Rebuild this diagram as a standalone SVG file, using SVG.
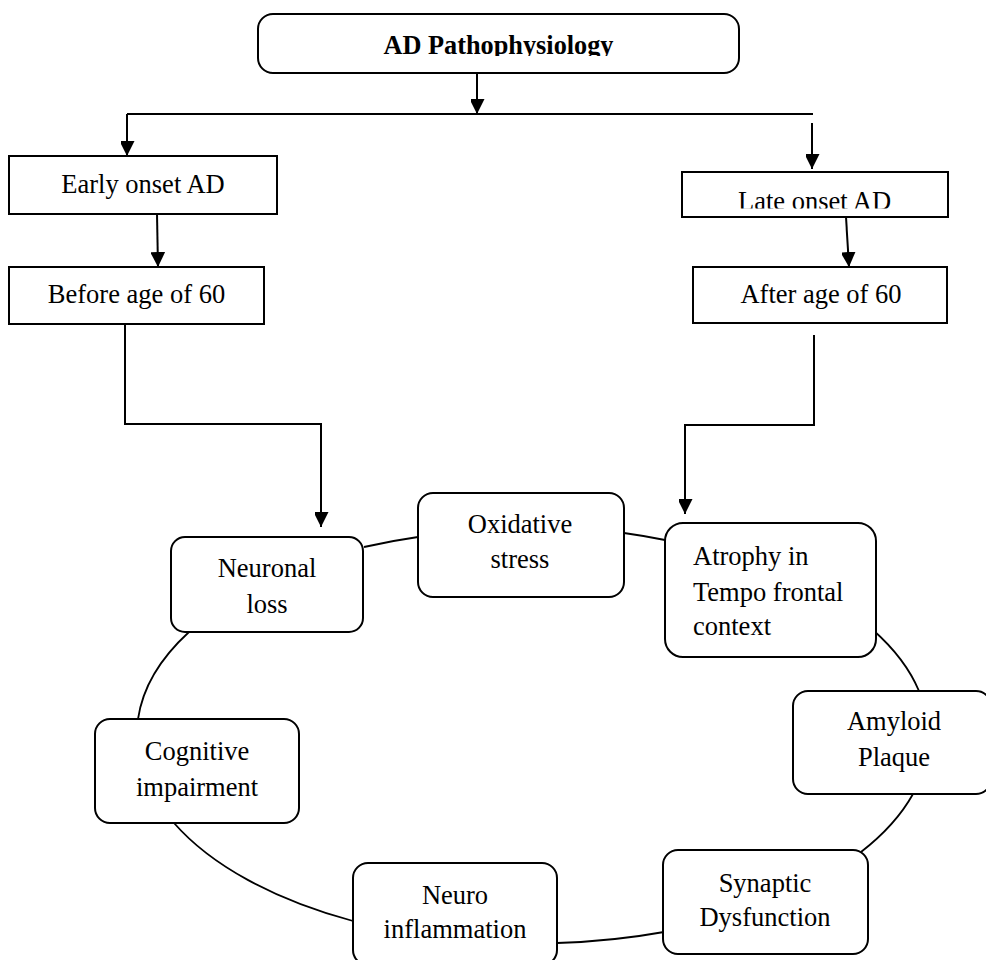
<svg xmlns="http://www.w3.org/2000/svg" width="986" height="960" viewBox="0 0 986 960">
<style>
.box{fill:#fff;stroke:#000;stroke-width:2}
.t{font-family:"Liberation Serif","Times New Roman",serif;font-size:26.5px;fill:#000}
.c{text-anchor:middle}
.ln{fill:none;stroke:#000;stroke-width:2}
.arc{fill:none;stroke:#000;stroke-width:1.8}
</style>
<defs>
<marker id="ah" markerUnits="userSpaceOnUse" markerWidth="16" markerHeight="14" refX="15" refY="7.5" orient="auto">
<path d="M0,0 L15,7.5 L0,15 Z" fill="#000"/>
</marker>
<clipPath id="clipTitle"><rect x="250" y="20" width="500" height="36"/></clipPath>
<clipPath id="clipLate"><rect x="684" y="174" width="262" height="34.5"/></clipPath>
</defs>
<rect width="986" height="960" fill="#fff"/>
<g id="connectors">
<path class="ln" d="M477,73 V114" marker-end="url(#ah)"/>
<path class="ln" d="M127,114 H813"/>
<path class="ln" d="M127,114 V156" marker-end="url(#ah)"/>
<path class="ln" d="M812,123 V169" marker-end="url(#ah)"/>
<path class="ln" d="M157,214 L158,267" marker-end="url(#ah)"/>
<path class="ln" d="M846,217 L849,267" marker-end="url(#ah)"/>
<path class="ln" d="M125,324 V424 H321 V527" marker-end="url(#ah)"/>
<path class="ln" d="M814,335 V425 H685 V514" marker-end="url(#ah)"/>
<path class="arc" d="M364,547 A395 207 0 0 1 418,537"/>
<path class="arc" d="M624,533 A395 207 0 0 1 665,540"/>
<path class="arc" d="M873,630 A395 207 0 0 1 919,691"/>
<path class="arc" d="M913,794 A395 207 0 0 1 861,852"/>
<path class="arc" d="M664,932 A395 207 0 0 1 557,943"/>
<path class="arc" d="M353,921 A395 207 0 0 1 174,823"/>
<path class="arc" d="M138,719 A395 207 0 0 1 189,632"/>
</g>
<g id="n-title">
<rect class="box" x="258" y="14" width="481" height="59" rx="15"/>
<text class="t c" x="498.5" y="54" font-size="23" font-weight="bold" textLength="230" lengthAdjust="spacingAndGlyphs" clip-path="url(#clipTitle)">AD Pathophysiology</text>
</g>
<g id="n-early">
<rect class="box" x="9" y="156" width="268" height="58"/>
<text class="t c" x="143" y="193" font-size="24.5">Early onset AD</text>
</g>
<g id="n-late">
<rect class="box" x="682" y="172" width="266" height="45"/>
<text class="t c" x="814.5" y="210" clip-path="url(#clipLate)">Late onset AD</text>
</g>
<g id="n-before">
<rect class="box" x="9" y="267" width="255" height="57"/>
<text class="t c" x="136.5" y="303">Before age of 60</text>
</g>
<g id="n-after">
<rect class="box" x="693" y="267" width="254" height="56"/>
<text class="t c" x="821" y="303">After age of 60</text>
</g>
<g id="n-oxidative">
<rect class="box" x="418" y="493" width="206" height="104" rx="15"/>
<text class="t c" x="520" y="533">Oxidative</text>
<text class="t c" x="520" y="568">stress</text>
</g>
<g id="n-neuronal">
<rect class="box" x="171" y="537" width="192" height="95" rx="14"/>
<text class="t c" x="267" y="577">Neuronal</text>
<text class="t c" x="267" y="613">loss</text>
</g>
<g id="n-atrophy">
<rect class="box" x="665" y="523" width="211" height="134" rx="18"/>
<text class="t" x="693" y="565">Atrophy in</text>
<text class="t" x="693" y="601">Tempo frontal</text>
<text class="t" x="693" y="635">context</text>
</g>
<g id="n-amyloid">
<rect class="box" x="793" y="691" width="198" height="103" rx="15"/>
<text class="t c" x="894" y="730">Amyloid</text>
<text class="t c" x="894" y="766">Plaque</text>
</g>
<g id="n-cognitive">
<rect class="box" x="95" y="719" width="204" height="104" rx="15"/>
<text class="t c" x="197" y="760">Cognitive</text>
<text class="t c" x="197" y="796">impairment</text>
</g>
<g id="n-neuro">
<rect class="box" x="353" y="863" width="204" height="102" rx="15"/>
<text class="t c" x="455" y="904">Neuro</text>
<text class="t c" x="455" y="938">inflammation</text>
</g>
<g id="n-synaptic">
<rect class="box" x="663" y="850" width="205" height="104" rx="15"/>
<text class="t c" x="765" y="892">Synaptic</text>
<text class="t c" x="765" y="926">Dysfunction</text>
</g>
</svg>
